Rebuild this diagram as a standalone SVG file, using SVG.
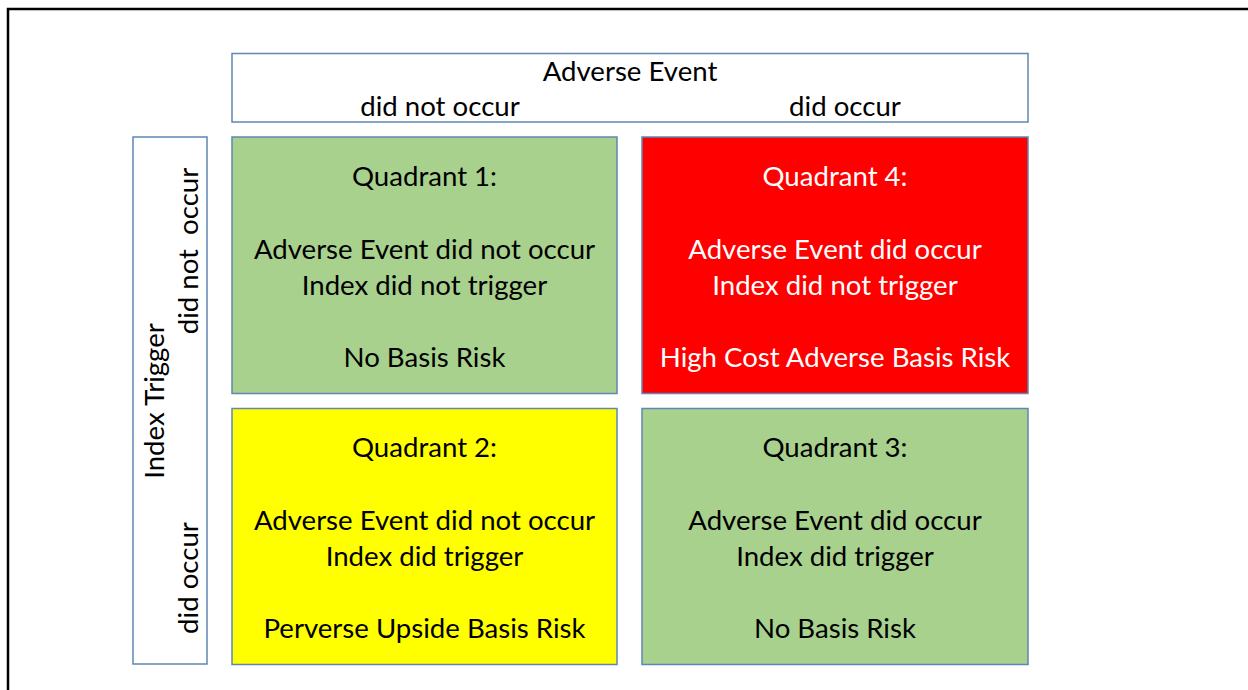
<svg xmlns="http://www.w3.org/2000/svg" width="1248" height="690" viewBox="0 0 1248 690">
<style>
.box{stroke:#5f86b4;stroke-width:1.5}
text{font-family:Lato,"Open Sans","Noto Sans",sans-serif;font-size:27.6px;fill:#000;text-anchor:middle;white-space:pre}
.w{fill:#fff}
</style>
<rect x="0" y="0" width="1248" height="690" fill="#fff"/>
<rect x="8" y="9" width="1260" height="700" fill="none" stroke="#000" stroke-width="2.5"/>
<g id="header">
<rect class="box" x="232" y="53.5" width="796" height="68.5" fill="#fff"/>
<text x="630" y="81">Adverse Event</text>
<text x="440" y="116">did not occur</text>
<text x="845" y="116">did occur</text>
</g>
<g id="index-trigger">
<rect class="box" x="133" y="137" width="74" height="527" fill="#fff"/>
<text transform="translate(164,401) rotate(-90)">Index Trigger</text>
<text transform="translate(198,251) rotate(-90)">did not  occur</text>
<text transform="translate(198,578) rotate(-90)">did occur</text>
</g>
<g id="q1">
<rect class="box" x="232" y="137" width="385" height="256.5" fill="#a9d18e"/>
<text x="424.5" y="186">Quadrant 1:</text>
<text x="424.5" y="259">Adverse Event did not occur</text>
<text x="424.5" y="295">Index did not trigger</text>
<text x="424.5" y="367">No Basis Risk</text>
</g>
<g id="q4">
<rect class="box" x="642" y="137" width="386" height="256.5" fill="#ff0000"/>
<text class="w" x="835" y="186">Quadrant 4:</text>
<text class="w" x="835" y="259">Adverse Event did occur</text>
<text class="w" x="835" y="295">Index did not trigger</text>
<text class="w" x="835" y="367">High Cost Adverse Basis Risk</text>
</g>
<g id="q2">
<rect class="box" x="232" y="408.5" width="385" height="256" fill="#ffff00"/>
<text x="424.5" y="457">Quadrant 2:</text>
<text x="424.5" y="530">Adverse Event did not occur</text>
<text x="424.5" y="566">Index did trigger</text>
<text x="424.5" y="638">Perverse Upside Basis Risk</text>
</g>
<g id="q3">
<rect class="box" x="642" y="408.5" width="386" height="256" fill="#a9d18e"/>
<text x="835" y="457">Quadrant 3:</text>
<text x="835" y="530">Adverse Event did occur</text>
<text x="835" y="566">Index did trigger</text>
<text x="835" y="638">No Basis Risk</text>
</g>
<g id="connectors"></g>
</svg>
